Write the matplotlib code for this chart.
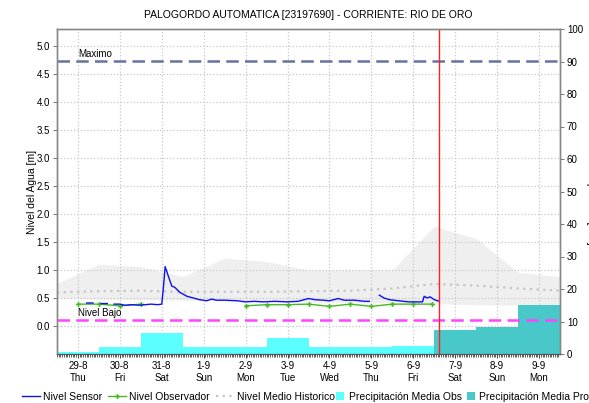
import numpy as np
import matplotlib
matplotlib.use("Agg")
import matplotlib.pyplot as plt
from matplotlib.lines import Line2D
from matplotlib.patches import Patch

plt.rcParams['font.family'] = ['Liberation Sans', 'DejaVu Sans']

# Day labels (index 0 = 29-8)
day_labels = ["29-8", "30-8", "31-8", "1-9", "2-9", "3-9", "4-9", "5-9", "6-9", "7-9", "8-9", "9-9"]
weekdays = ["Thu", "Fri", "Sat", "Sun", "Mon", "Tue", "Wed", "Thu", "Fri", "Sat", "Sun", "Mon"]

# Daily precipitation [mm]: observed days then forecast days
precip_obs = [0.6, 2.2, 6.5, 2.2, 2.2, 5.0, 2.2, 2.2, 2.5]
precip_fcst = [7.4, 8.4, 15.2]

# Historic level envelope and mean [m], at half-day positions
hist_t = [-0.5, 0.5, 1.5, 2.5, 3.5, 4.5, 5.5, 6.5, 7.5, 8.5, 9.5, 10.5, 11.5]
hist_hi = [0.76, 1.10, 1.06, 0.88, 1.21, 1.15, 1.00, 1.00, 1.00, 1.78, 1.56, 0.96, 0.88]
hist_lo = [0.50, 0.48, 0.47, 0.46, 0.45, 0.44, 0.43, 0.42, 0.41, 0.40, 0.38, 0.37, 0.37]
hist_mean = [0.60, 0.62, 0.63, 0.61, 0.61, 0.61, 0.62, 0.63, 0.67, 0.75, 0.72, 0.67, 0.63]

# Sensor level [m] (day fraction, value); NaN marks missing data
sensor_t = [0.21, 0.36, 0.45, 0.55, 0.70, 0.78, 0.86, 1.00, 1.12, 1.30, 1.45, 1.60, 1.75,
            1.90, 2.00, 2.04, 2.08, 2.16, 2.24, 2.31, 2.43, 2.60, 2.75, 2.90, 3.07, 3.19,
            3.30, 3.50, 3.80, 4.00, 4.20, 4.43, 4.70, 5.00, 5.25, 5.50, 5.65, 5.86, 6.00,
            6.21, 6.35, 6.60, 6.85, 6.95, 7.05, 7.19, 7.30, 7.43, 7.65, 7.90, 8.10, 8.22,
            8.26, 8.33, 8.40, 8.50, 8.62]
sensor_v = [0.41, 0.41, np.nan, 0.40, 0.40, np.nan, 0.39, 0.39, 0.37, 0.38, 0.37, 0.38, 0.39,
            0.38, 0.39, 0.70, 1.06, 0.88, 0.71, 0.69, 0.60, 0.53, 0.50, 0.47, 0.45, 0.48,
            0.46, 0.46, 0.45, 0.43, 0.44, 0.43, 0.44, 0.43, 0.44, 0.49, 0.47, 0.46, 0.45,
            0.49, 0.46, 0.46, 0.44, 0.44, np.nan, 0.55, 0.50, 0.47, 0.45, 0.43, 0.43, 0.43,
            0.53, 0.50, 0.52, 0.47, 0.44]

# Observer readings [m]
obs_t = [0.0, 0.5, 1.0, 1.5, 2.75, 4.0, 4.5, 5.0, 5.5, 6.0, 6.5, 7.0, 7.5, 8.0, 8.45]
obs_v = [0.39, 0.39, 0.36, 0.39, np.nan, 0.36, 0.38, 0.38, 0.39, 0.35, 0.39, 0.35, 0.39, 0.39, 0.39]

nivel_maximo = 4.73
nivel_bajo = 0.10
now_t = 8.62

SENSOR_C = "#1010EE"
OBS_C = "#44BB22"
MEAN_C = "#C4C4C4"
PR_OBS_C = "#5CFFFF"
PR_FC_C = "#48C8C8"

fig = plt.figure(figsize=(5.89, 4.03), dpi=100)
ax = fig.add_axes([57 / 589, 1 - 354 / 403, (560 - 57) / 589, (354 - 29) / 403])
ax2 = ax.twinx()

ax.set_xlim(-0.5, 11.5)
ax.set_ylim(-0.5, 5.3)
ax2.set_ylim(0, 100)

# Historic envelope and mean
ax.fill_between(hist_t, hist_lo, hist_hi, color="#EFEFEF", lw=0, zorder=0.3)
ax.plot(hist_t, hist_mean, color=MEAN_C, lw=1.6, ls=(0, (1, 2)), zorder=0.6)

# Grid
ax.set_axisbelow(True)
ax.grid(True, color="#C8C8C8", ls=":", lw=0.9)

# Precipitation bars (right-axis units)
n_obs = len(precip_obs)
x_obs = np.arange(n_obs)
x_fc = np.arange(n_obs, n_obs + len(precip_fcst))
ax.bar(x_obs, precip_obs, width=1.0, color=PR_OBS_C, lw=0, zorder=1, transform=ax2.transData)
ax.bar(x_fc, precip_fcst, width=1.0, color=PR_FC_C, lw=0, zorder=1, transform=ax2.transData)

# Reference levels
ax.axhline(nivel_maximo, color="#6673A0", lw=1.8, ls=(0, (5, 2.5)), zorder=2)
ax.axhline(nivel_bajo, color="#FF44FF", lw=1.8, ls=(0, (5, 2.5)), zorder=2)
ax.text(0.0, nivel_maximo + 0.04, "Maximo", fontsize=7, ha="left", va="bottom", zorder=3)
ax.text(0.0, nivel_bajo + 0.04, "Nivel Bajo", fontsize=7, ha="left", va="bottom", zorder=3)

# Level series
ax.plot(obs_t, obs_v, color=OBS_C, lw=1.0, marker="P", ms=3.5, mew=0, zorder=3)
ax.plot(sensor_t, sensor_v, color=SENSOR_C, lw=1.0, zorder=4)

# Current time marker
ax.axvline(now_t, color="#FF2020", lw=1.0, zorder=5)

# Axes formatting
ax.set_xticks(range(len(day_labels)))
ax.set_xticklabels([f"{d}\n{w}" for d, w in zip(day_labels, weekdays)], fontsize=7, linespacing=1.25)
ax.set_xticks(np.arange(-0.5, 11.5, 1 / 24), minor=True)
ax.tick_params(axis="x", which="major", length=3, width=0.7, color="#444444", pad=2)
ax.tick_params(axis="x", which="minor", length=2, width=0.6, color="#444444")
ax.set_yticks(np.arange(0, 5.01, 0.5))
ax.set_yticklabels([f"{v:.1f}" for v in np.arange(0, 5.01, 0.5)], fontsize=7)
ax.tick_params(axis="y", length=3, width=0.7, color="#777777", pad=2)
ax2.set_yticks(np.arange(0, 101, 10))
ax2.set_yticklabels([str(v) for v in range(0, 101, 10)], fontsize=7)
ax2.tick_params(axis="y", length=3, width=0.7, color="#777777", pad=2)

for a in (ax, ax2):
    for side in ("left", "right", "top"):
        a.spines[side].set_color("#888888")
        a.spines[side].set_linewidth(1.0)
    a.spines["bottom"].set_color("#555555")
    a.spines["bottom"].set_linewidth(0.8)

ax.set_ylabel("Nivel del Agua [m]", fontsize=7.5, labelpad=0)
fig.text(586 / 589, 0.5, "Precipitación [mm]", fontsize=7.5, rotation=270,
         ha="left", va="center")

ax.set_title("PALOGORDO AUTOMATICA [23197690] - CORRIENTE: RIO DE ORO", fontsize=7.5, pad=8)

# Legend: line entries, then precipitation swatches
line_handles = [
    Line2D([], [], color=SENSOR_C, lw=1.0),
    Line2D([], [], color=OBS_C, lw=1.0, marker="P", ms=3.5, mew=0),
    Line2D([], [], color=MEAN_C, lw=1.6, ls=(0, (1, 2))),
]
line_labels = ["Nivel Sensor", "Nivel Observador", "Nivel Medio Historico"]
leg1 = fig.legend(line_handles, line_labels, loc="center left",
                  bbox_to_anchor=(22 / 589, 6 / 403), ncol=3, frameon=False, fontsize=7.5,
                  handlelength=1.7, handletextpad=0.3, columnspacing=0.6,
                  borderaxespad=0, borderpad=0)

patch_handles = [Patch(facecolor=PR_OBS_C, lw=0), Patch(facecolor=PR_FC_C, lw=0)]
patch_labels = ["Precipitación Media Obs", "Precipitación Media Pronosticada"]
fig.legend(patch_handles, patch_labels, loc="center left",
           bbox_to_anchor=(336 / 589, 6 / 403), ncol=2, frameon=False, fontsize=7.5,
           handlelength=0.8, handleheight=0.8, handletextpad=0.4, columnspacing=0.5,
           borderaxespad=0, borderpad=0)

fig.savefig("out.png", dpi=100)
